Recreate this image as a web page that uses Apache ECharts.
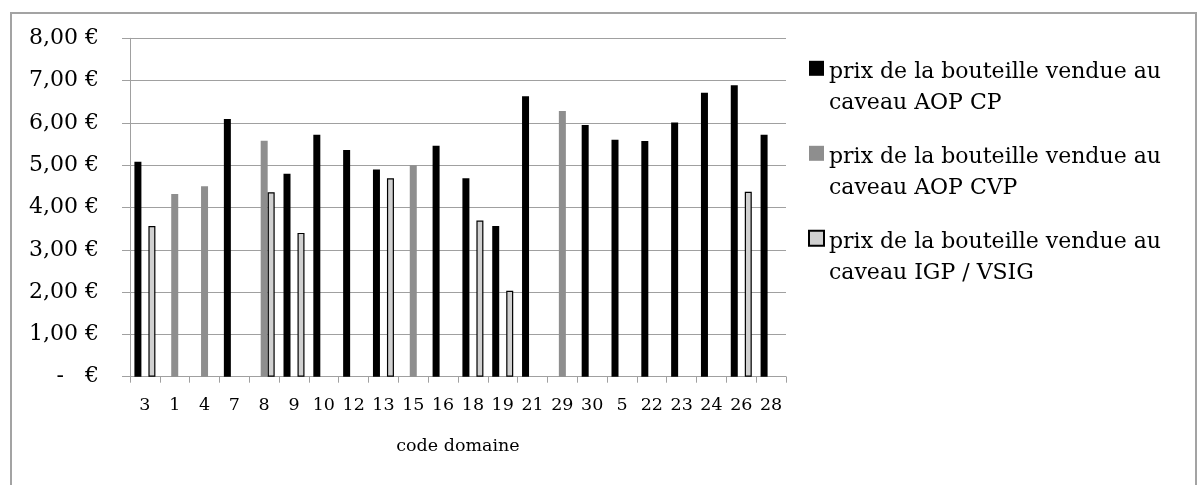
<!DOCTYPE html>
<html>
<head>
<meta charset="utf-8">
<script src="https://cdn.jsdelivr.net/npm/echarts@6/dist/echarts.min.js"></script>
<style>
html,body{margin:0;padding:0;background:#fff;}
#c{width:1197px;height:485px;}
</style>
</head>
<body>
<div id="c"></div>
<script>
var categories = ['3','1','4','7','8','9','10','12','13','15','16','18','19','21','29','30','5','22','23','24','26','28'];
var seriesNames = [
  'prix de la bouteille vendue au\ncaveau AOP CP',
  'prix de la bouteille vendue au\ncaveau AOP CVP',
  'prix de la bouteille vendue au\ncaveau IGP / VSIG'
];
var aopCP  = [5.08, null, null, 6.09, null, 4.80, 5.72, 5.36, 4.90, null, 5.46, 4.69, 3.56, 6.63, null, 5.95, 5.60, 5.57, 6.01, 6.71, 6.89, 5.72];
var aopCVP = [null, 4.32, 4.50, null, 5.58, null, null, null, null, 5.00, null, null, null, null, 6.28, null, null, null, null, null, null, null];
var igp    = [3.56, null, null, null, 4.36, 3.40, null, null, 4.69, null, null, 3.69, 2.03, null, null, null, null, null, null, null, 4.37, null];
var yTicks = [0, 1, 2, 3, 4, 5, 6, 7, 8];

var FONT = 'DejaVu Serif';
var chart = echarts.init(document.getElementById('c'), null, {renderer: 'canvas'});
chart.setOption({
  animation: false,
  backgroundColor: '#ffffff',
  graphic: [{
    type: 'rect',
    shape: {x: 11, y: 13, width: 1185, height: 520},
    style: {fill: 'none', stroke: '#a3a3a3', lineWidth: 2},
    silent: true, z: -10
  }],
  grid: {left: 130, right: 411, top: 38.3, bottom: 108.3, containLabel: false},
  legend: {
    orient: 'vertical',
    left: 808,
    top: 18.3,
    padding: 0,
    itemGap: -15,
    itemWidth: 15,
    itemHeight: 15,
    icon: 'rect',
    data: seriesNames,
    formatter: function (name) {
      var parts = name.split('\n');
      return '{s| }\n{t|' + parts[0] + '}\n{t|' + parts[1] + '}';
    },
    textStyle: {
      fontFamily: FONT, fontSize: 22, lineHeight: 31, color: '#000',
      rich: {
        s: {fontFamily: FONT, fontSize: 10, lineHeight: 38, color: '#000'},
        t: {fontFamily: FONT, fontSize: 22, lineHeight: 31, color: '#000'}
      }
    }
  },
  xAxis: {
    type: 'category',
    data: categories,
    name: 'code domaine',
    nameLocation: 'middle',
    nameGap: 61,
    nameTextStyle: {fontFamily: FONT, fontSize: 17.5, color: '#000'},
    axisLine: {lineStyle: {color: '#a0a0a0', width: 1}},
    axisTick: {show: true, length: 6, alignWithLabel: false, lineStyle: {color: '#a0a0a0'}},
    axisLabel: {fontFamily: FONT, fontSize: 17.5, color: '#000', margin: 20, interval: 0},
    splitLine: {show: false}
  },
  yAxis: {
    type: 'value',
    min: yTicks[0],
    max: yTicks[yTicks.length - 1],
    interval: 1,
    axisLine: {show: true, lineStyle: {color: '#a0a0a0', width: 1}},
    axisTick: {show: true, length: 8, lineStyle: {color: '#a0a0a0'}},
    axisLabel: {
      fontFamily: FONT, fontSize: 22, color: '#000', margin: 31,
      formatter: function (v) {
        if (v === 0) return '-   €';
        return v.toFixed(2).replace('.', ',') + ' €';
      }
    },
    splitLine: {show: true, lineStyle: {color: '#a0a0a0', width: 1}}
  },
  series: [
    {
      name: seriesNames[0], type: 'bar', data: aopCP,
      barWidth: 7, barGap: '0%',
      itemStyle: {color: '#000000'}
    },
    {
      name: seriesNames[1], type: 'bar', data: aopCVP,
      barWidth: 7, barGap: '0%',
      itemStyle: {color: '#8e8e8e'}
    },
    {
      name: seriesNames[2], type: 'bar', data: igp,
      barWidth: 7, barGap: '0%',
      itemStyle: {color: '#d0d0d0', borderColor: '#000000', borderWidth: 1.2}
    }
  ]
});
</script>
</body>
</html>
